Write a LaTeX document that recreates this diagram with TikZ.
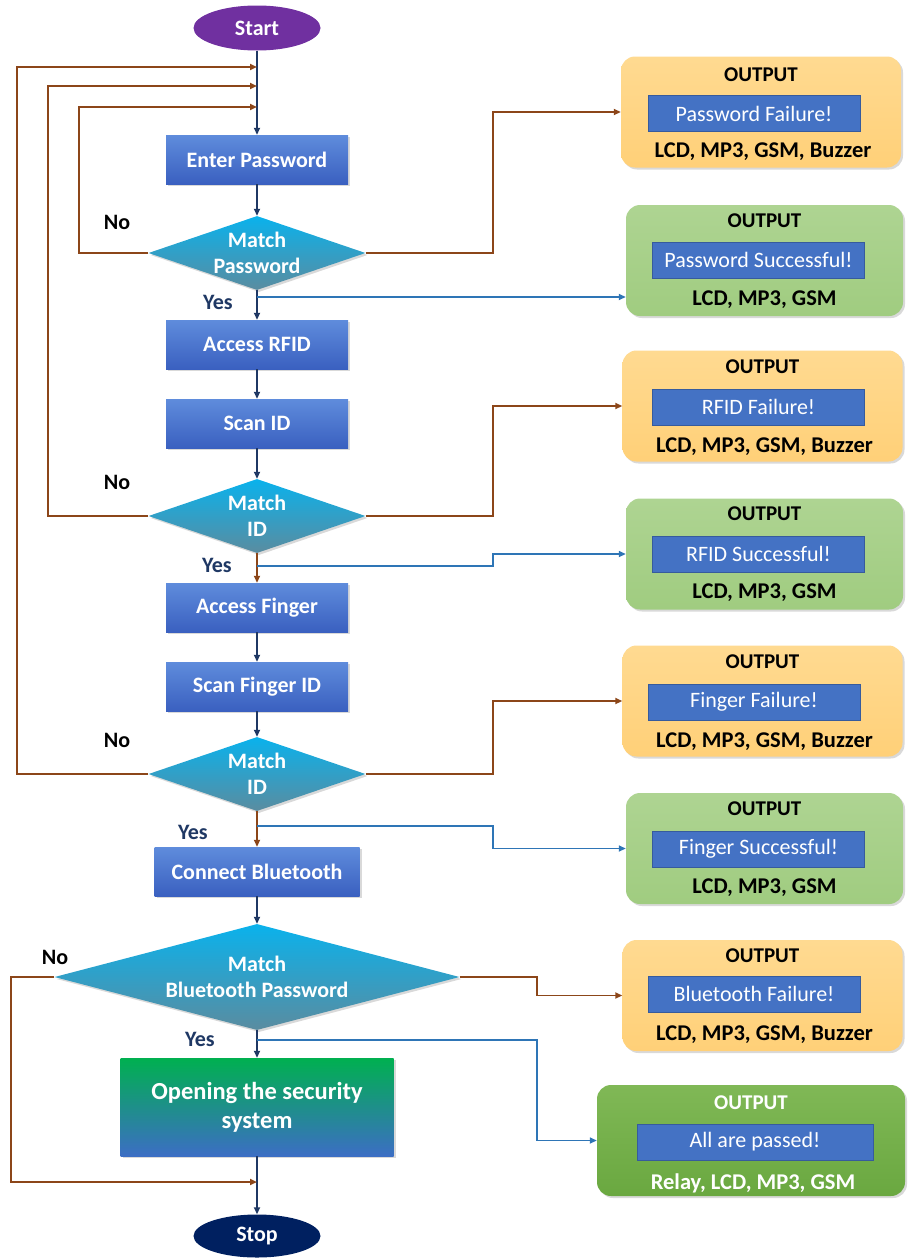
\documentclass[tikz,border=0pt]{standalone}
\usepackage{fontspec}
\setmainfont{Carlito}
\usetikzlibrary{shapes.geometric,arrows.meta,shadows,calc}
\definecolor{navyln}{RGB}{31,56,100}
\definecolor{brnln}{RGB}{140,70,25}
\definecolor{bluln}{RGB}{46,117,182}
\definecolor{boxtop}{RGB}{95,140,220}
\definecolor{boxbot}{RGB}{58,96,192}
\definecolor{dectop}{RGB}{10,178,236}
\definecolor{decbot}{RGB}{90,140,160}
\definecolor{yeltop}{RGB}{255,218,145}
\definecolor{yelbot}{RGB}{255,208,120}
\definecolor{grntop}{RGB}{174,212,146}
\definecolor{grnbot}{RGB}{160,204,128}
\definecolor{dgrntop}{RGB}{128,184,86}
\definecolor{dgrnbot}{RGB}{106,168,64}
\definecolor{innerblue}{RGB}{68,114,196}
\definecolor{startpurple}{RGB}{112,48,160}
\definecolor{stopnavy}{RGB}{0,32,96}
\definecolor{opentop}{RGB}{0,176,80}
\definecolor{openbot}{RGB}{60,110,196}
\begin{document}
\begin{tikzpicture}[x=1pt,y=-1pt,
  txt/.style={font=\bfseries\fontsize{22}{26}\selectfont},
  shad/.style={drop shadow={opacity=0.3,shadow xshift=2pt,shadow yshift=-2pt}},
  proc/.style={rectangle,inner sep=0pt,minimum width=182pt,minimum height=49pt,
    top color=boxtop,bottom color=boxbot,text=white,txt,shad},
  dec/.style={diamond,inner sep=0pt,minimum width=217pt,minimum height=74pt,
    top color=dectop,middle color=dectop!80!decbot,bottom color=decbot,shad},
  declbl/.style={txt,text=white,align=center},
  term/.style={ellipse,inner sep=0pt,minimum width=127pt,minimum height=45pt,text=white,txt},
  outy/.style={rectangle,rounded corners=14pt,minimum width=280pt,minimum height=111pt,
    top color=yeltop,bottom color=yelbot,shad},
  outg/.style={rectangle,rounded corners=14pt,minimum width=277pt,minimum height=111pt,
    top color=grntop,bottom color=grnbot,shad},
  inner/.style={rectangle,fill=innerblue,draw=innerblue!80!black,line width=0.6pt,
    minimum width=212pt,minimum height=36pt,inner sep=0pt,text=white,
    font=\fontsize{22}{25}\selectfont},
  ohead/.style={font=\bfseries\fontsize{21}{25}\selectfont,text=black},
  odev/.style={font=\bfseries\fontsize{22.5}{25}\selectfont,text=black},
  nav/.style={draw=navyln,line width=1.8pt,-{Triangle[length=7pt,width=6pt]}},
  brn/.style={draw=brnln,line width=1.8pt,-{Triangle[length=7pt,width=6pt]}},
  blu/.style={draw=bluln,line width=1.6pt,-{Triangle[length=7pt,width=6pt]}},
  nolbl/.style={txt,text=black},
  yeslbl/.style={txt,text=navyln}
]
\useasboundingbox (0,0) rectangle (913,1258);

% main flow nodes
\node[term,fill=startpurple] (start) at (257,28) {Start};
\node[proc] (ep) at (257,159.5) {Enter Password};
\node[dec,label={[declbl]center:Match\\Password}] (d1) at (257,253) {};
\node[proc] (ar) at (257,344.5) {Access RFID};
\node[proc] (si) at (257,423.5) {Scan ID};
\node[dec,label={[declbl]center:Match\\ID}] (d2) at (257,516) {};
\node[proc] (af) at (257,607.5) {Access Finger};
\node[proc] (sf) at (257,686.5) {Scan Finger ID};
\node[dec,label={[declbl]center:Match\\ID}] (d3) at (257,774) {};
\node[proc,minimum width=205pt] (cb) at (257,871.5) {Connect Bluetooth};
\node[dec,minimum width=405pt,minimum height=106pt,label={[declbl]center:Match\\Bluetooth Password}] (d4) at (257,977) {};
\node[rectangle,inner sep=0pt,minimum width=273pt,minimum height=98pt,top color=opentop,
  middle color=opentop!55!openbot,bottom color=openbot,text=white,align=center,
  font=\bfseries\fontsize{24.5}{29}\selectfont,shad] (op) at (257,1107) {Opening the security\\system};
\node[term,fill=stopnavy,minimum height=43pt] (stop) at (257,1236) {Stop};

% junction coordinates on the main line
\coordinate (j1) at (257,67);
\coordinate (j2) at (257,86);
\coordinate (j3) at (257,107);
\coordinate (y1) at (257,297);
\coordinate (y2) at (257,566);
\coordinate (y3) at (257,826);
\coordinate (y4) at (257,1040);
\coordinate (j4) at (257,1182);

% output boxes
\node[outy] (o1) at (761,112) {};
\node[outg] (o2) at (764.5,260.5) {};
\node[outy] (o3) at (762.5,406) {};
\node[outg] (o4) at (764.5,554) {};
\node[outy] (o5) at (762.5,701) {};
\node[outg] (o6) at (764.5,848.5) {};
\node[outy] (o7) at (762.5,995.5) {};
\node[outg,minimum width=308pt,top color=dgrntop,bottom color=dgrnbot] (o8) at (751,1140.5) {};

\node[ohead] (o1h) at ($(o1.center)+(0,-37)$) {OUTPUT};
\node[inner] (o1i) at ($(o1.center)+(-7,1.5)$) {Password Failure!};
\node[odev] (o1d) at ($(o1.center)+(2,40)$) {LCD, MP3, GSM, Buzzer};

\node[ohead] (o2h) at ($(o2.center)+(0,-40)$) {OUTPUT};
\node[inner] (o2i) at ($(o2.center)+(-6,-0.5)$) {Password Successful!};
\node[odev] (o2d) at ($(o2.center)+(0,39.5)$) {LCD, MP3, GSM};

\node[ohead] (o3h) at ($(o3.center)+(0,-39)$) {OUTPUT};
\node[inner] (o3i) at ($(o3.center)+(-4,1)$) {RFID Failure!};
\node[odev] (o3d) at ($(o3.center)+(2,41)$) {LCD, MP3, GSM, Buzzer};

\node[ohead] (o4h) at ($(o4.center)+(0,-40)$) {OUTPUT};
\node[inner] (o4i) at ($(o4.center)+(-6,0)$) {RFID Successful!};
\node[odev] (o4d) at ($(o4.center)+(0,39)$) {LCD, MP3, GSM};

\node[ohead] (o5h) at ($(o5.center)+(0,-39)$) {OUTPUT};
\node[inner] (o5i) at ($(o5.center)+(-8.5,1)$) {Finger Failure!};
\node[odev] (o5d) at ($(o5.center)+(2,41)$) {LCD, MP3, GSM, Buzzer};

\node[ohead] (o6h) at ($(o6.center)+(0,-40)$) {OUTPUT};
\node[inner] (o6i) at ($(o6.center)+(-6,0.5)$) {Finger Successful!};
\node[odev] (o6d) at ($(o6.center)+(0,39.5)$) {LCD, MP3, GSM};

\node[ohead] (o7h) at ($(o7.center)+(0,-40)$) {OUTPUT};
\node[inner] (o7i) at ($(o7.center)+(-8.5,-1.5)$) {Bluetooth Failure!};
\node[odev] (o7d) at ($(o7.center)+(2,39.5)$) {LCD, MP3, GSM, Buzzer};

\node[ohead,text=white] (o8h) at ($(o8.center)+(0,-37.5)$) {OUTPUT};
\node[inner,minimum width=236pt] (o8i) at ($(o8.center)+(4,1.5)$) {All are passed!};
\node[odev,text=white] (o8d) at ($(o8.center)+(2,42.5)$) {Relay, LCD, MP3, GSM};

% main line
\draw[nav] (start) -- (ep);
\draw[nav] (ep) -- (d1);
\draw[nav] (d1) -- (ar);
\draw[nav] (ar) -- (si);
\draw[nav] (si) -- (d2);
\draw[brn] (d2) -- (af);
\draw[nav] (af) -- (sf);
\draw[nav] (sf) -- (d3);
\draw[brn] (d3) -- (cb);
\draw[nav] (cb) -- (d4);
\draw[nav] (d4) -- (op);
\draw[nav] (op) -- (stop);

% No loops
\draw[brn] (d1.west) -- (79,253) |- (j3);
\draw[brn] (d2.west) -- (48,516) |- (j2);
\draw[brn] (d3.west) -- (17,774) |- (j1);
\draw[brn] (d4.west) -- (11,977) |- (j4);

% failure outputs
\draw[brn] (d1.east) -- (493,253) |- (o1.west);
\draw[brn] (d2.east) -- (493,516) |- (o3.west);
\draw[brn] (d3.east) -- (493,774) |- (o5.west);
\draw[brn] (d4.east) -- (537,977) |- (o7.west);

% success outputs
\draw[blu] (y1) -- (y1 -| o2.west);
\draw[blu] (y2) -- (493,566) |- (o4.west);
\draw[blu] (y3) -- (493,826) |- (o6.west);
\draw[blu] (y4) -- (537,1040) |- (o8.west);

% labels
\node[nolbl] (n1) at (117,222) {No};
\node[nolbl] (n2) at (117,482) {No};
\node[nolbl] (n3) at (117,740) {No};
\node[nolbl] (n4) at (55,957) {No};
\node[yeslbl] (ys1) at (218,302) {Yes};
\node[yeslbl] (ys2) at (217,565) {Yes};
\node[yeslbl] (ys3) at (193,832) {Yes};
\node[yeslbl] (ys4) at (200,1039) {Yes};
\end{tikzpicture}
\end{document}
